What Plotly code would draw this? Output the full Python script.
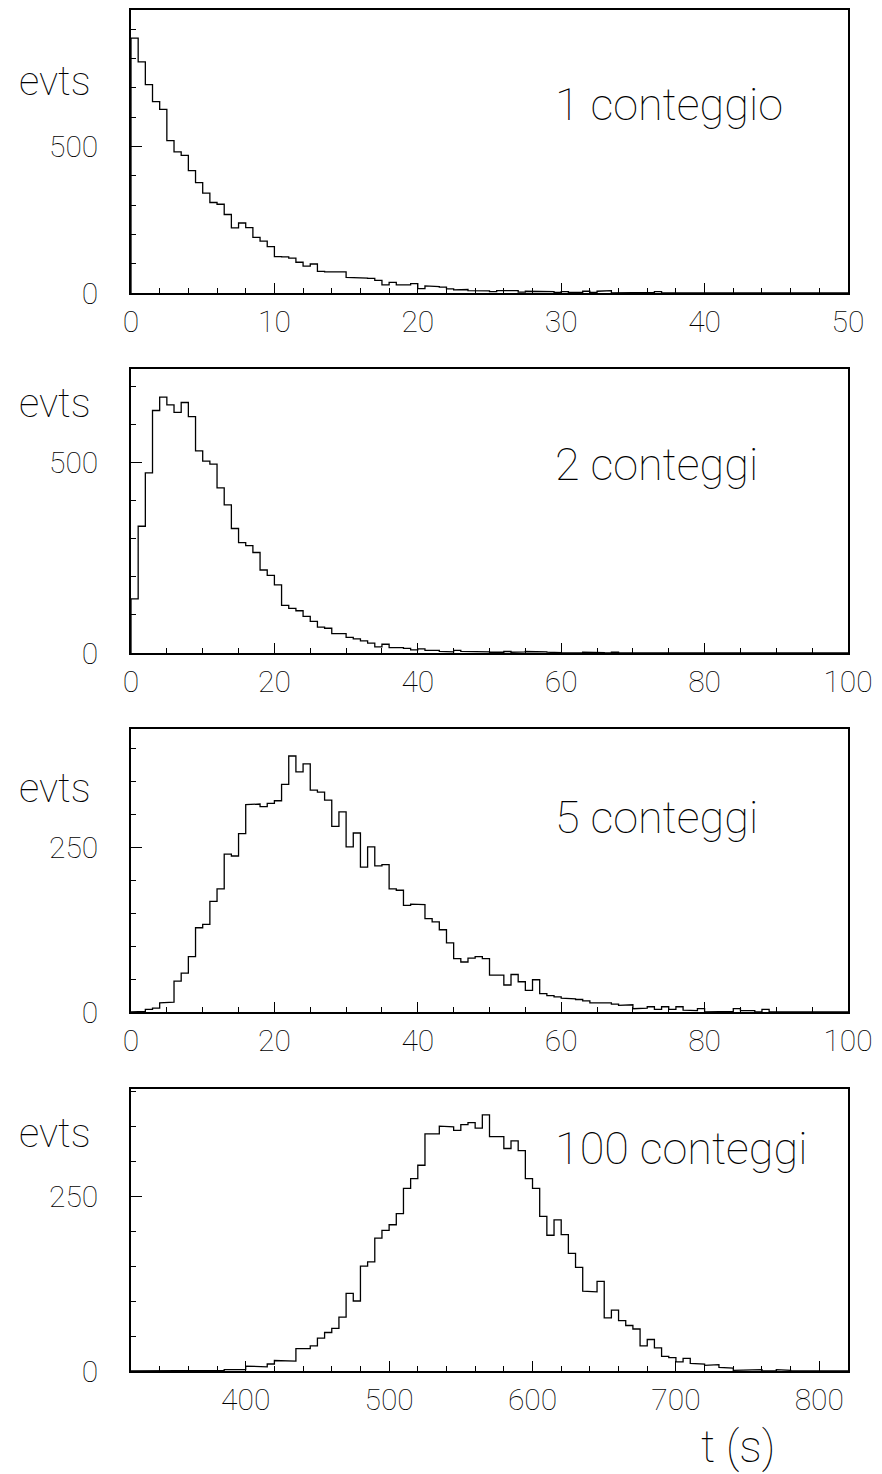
import plotly.graph_objects as go

# ---- histogram contents (counts per bin) ----
# 1 conteggio: 100 bins of 0.5 s from 0 to 50
counts_1 = [870, 789, 711, 653, 627, 520, 482, 470, 418, 377,
            341, 309, 303, 268, 222, 239, 223, 190, 177, 158,
            124, 123, 119, 105, 92, 99, 74, 72, 72, 72,
            53, 53, 51, 50, 43, 28, 36, 28, 28, 32,
            15, 24, 22, 20, 14, 11, 12, 8, 9, 7,
            5, 8, 8, 8, 3, 6, 6, 6, 5, 2,
            5, 2, 2, 6, 2, 6, 8, 0, 2, 0,
            0, 0, 2, 5] + [0] * 26

# 2 conteggi: 100 bins of 1 s from 0 to 100
counts_2 = [142, 333, 473, 637, 672, 652, 632, 658, 621, 531,
            504, 496, 434, 389, 327, 290, 282, 264, 218, 204,
            179, 125, 117, 111, 96, 83, 68, 65, 51, 51,
            41, 37, 32, 26, 16, 23, 14, 14, 12, 8,
            11, 7, 7, 4, 3, 7, 4, 4, 3, 3,
            2, 2, 4, 2, 3, 4, 4, 3, 2, 1,
            0, 1, 0, 2, 2, 1, 0, 2] + [0] * 32

# 5 conteggi: 100 bins of 1 s from 0 to 100
counts_5 = [0, 1, 4, 6, 14, 15, 47, 59, 84, 128,
            133, 168, 187, 240, 237, 271, 315, 316, 312, 317,
            321, 346, 389, 365, 377, 337, 334, 322, 282, 304,
            251, 272, 220, 251, 222, 224, 187, 185, 162, 164,
            163, 142, 137, 125, 105, 81, 76, 82, 84, 81,
            56, 56, 41, 57, 46, 33, 49, 28, 25, 23,
            21, 20, 19, 17, 14, 14, 14, 12, 10, 11,
            5, 6, 8, 4, 8, 4, 8, 3, 2, 5,
            0, 0, 1, 1, 5, 2, 2, 0, 4] + [0] * 11

# 100 conteggi: 100 bins of 5 s from 320 to 820
counts_100 = [0] * 12 + [1, 2, 3, 2, 7, 7, 6, 10,
              15, 15, 14, 32, 32, 36, 47, 55, 61, 77,
              111, 100, 150, 156, 190, 201, 209, 225, 261, 275,
              294, 339, 339, 350, 349, 344, 352, 355, 347, 366,
              335, 335, 318, 329, 315, 275, 261, 221, 194, 216,
              195, 168, 148, 114, 113, 128, 76, 87, 72, 65,
              60, 36, 45, 33, 21, 19, 13, 18, 11, 10,
              8, 9, 5, 4, 1, 1, 1, 2, 0, 0,
              2, 1] + [0] * 8

labels = ["1 conteggio", "2 conteggi", "5 conteggi", "100 conteggi"]
bin_start = [0, 0, 0, 320]
bin_width = [0.5, 1, 1, 5]
x_ranges = [[0, 50], [0, 100], [0, 100], [320, 820]]
y_ranges = [[0, 966], [0, 746], [0, 430], [0, 403]]
x_major = [10, 20, 20, 100]
x_minor = [2, 5, 5, 20]
y_major = [500, 500, 250, 250]
y_minor = [100, 100, 50, 50]
all_counts = [counts_1, counts_2, counts_5, counts_100]

# ---- page geometry (pixels) ----
W, H = 882, 1474
LEFT, RIGHT = 131, 848
panel_top = [10, 369, 729, 1089]
panel_bot = [293, 653, 1012, 1371]
evts_y = [82, 404, 788, 1133]
label_y = [105, 465, 817, 1148]

FONT = "Roboto Thin, Roboto Light, Roboto, sans-serif"
WEIGHT = 200


def px_x(x):
    return x / W


def px_y(y):
    return 1 - y / H


def step_path(start, width, counts):
    xs = [start]
    ys = [0]
    for i, c in enumerate(counts):
        left = start + i * width
        xs += [left, left + width]
        ys += [c, c]
    xs.append(start + len(counts) * width)
    ys.append(0)
    return xs, ys


fig = go.Figure()
annotations = []
layout_axes = {}

for i in range(4):
    n = "" if i == 0 else str(i + 1)
    xs, ys = step_path(bin_start[i], bin_width[i], all_counts[i])
    fig.add_trace(go.Scatter(
        x=xs, y=ys, mode="lines",
        line=dict(color="black", width=1.3),
        xaxis="x" + n, yaxis="y" + n, showlegend=False,
        hoverinfo="skip"))

    layout_axes["xaxis" + n] = dict(
        domain=[px_x(LEFT), px_x(RIGHT)],
        anchor="y" + n, range=x_ranges[i], automargin=False,
        showline=True, linecolor="black", linewidth=1.5, mirror=True,
        ticks="inside", ticklen=10, tickwidth=1.2, tickcolor="black",
        tick0=0, dtick=x_major[i],
        minor=dict(ticks="inside", ticklen=5, tickwidth=1.2,
                   tickcolor="black", dtick=x_minor[i], tick0=0,
                   showgrid=False),
        showgrid=False, zeroline=False,
        tickfont=dict(family=FONT, size=30, color="black", weight=WEIGHT),
        ticklabelstandoff=1,
    )
    layout_axes["yaxis" + n] = dict(
        domain=[px_y(panel_bot[i]), px_y(panel_top[i])],
        anchor="x" + n, range=y_ranges[i], automargin=False,
        showline=True, linecolor="black", linewidth=1.5, mirror=True,
        ticks="inside", ticklen=11, tickwidth=1.2, tickcolor="black",
        tick0=0, dtick=y_major[i],
        minor=dict(ticks="inside", ticklen=5, tickwidth=1.2,
                   tickcolor="black", dtick=y_minor[i], tick0=0,
                   showgrid=False),
        showgrid=False, zeroline=False,
        tickfont=dict(family=FONT, size=30, color="black", weight=WEIGHT),
        ticklabelstandoff=25,
    )

    annotations.append(dict(
        text="evts", xref="paper", yref="paper",
        x=px_x(17), y=px_y(evts_y[i]), xanchor="left", yanchor="middle",
        showarrow=False,
        font=dict(family=FONT, size=40, color="black", weight=WEIGHT)))
    annotations.append(dict(
        text=labels[i], xref="paper", yref="paper",
        x=px_x(553), y=px_y(label_y[i]), xanchor="left", yanchor="middle",
        showarrow=False,
        font=dict(family=FONT, size=45, color="black", weight=WEIGHT)))

annotations.append(dict(
    text="t (s)", xref="paper", yref="paper",
    x=px_x(738), y=px_y(1446), xanchor="center", yanchor="middle",
    showarrow=False,
    font=dict(family=FONT, size=45, color="black", weight=WEIGHT)))

fig.update_layout(
    template="none",
    width=W, height=H,
    margin=dict(l=0, r=0, t=0, b=0, pad=0, autoexpand=False),
    paper_bgcolor="white", plot_bgcolor="white",
    annotations=annotations,
    **layout_axes,
)

fig.write_html("out.html")
